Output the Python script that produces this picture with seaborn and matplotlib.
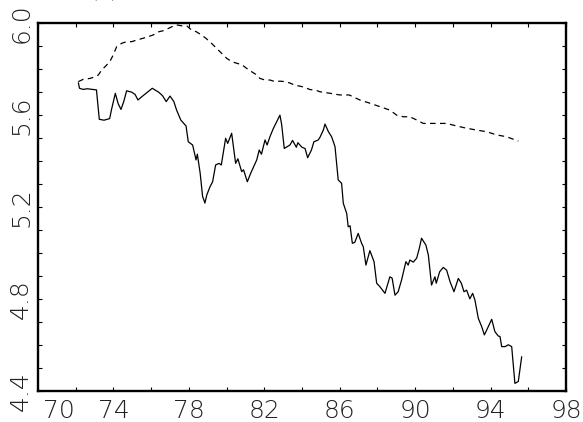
import matplotlib
matplotlib.use("Agg")
import matplotlib.pyplot as plt
import matplotlib.transforms as mtransforms
import numpy as np
import pandas as pd
import seaborn as sns

# Actual series (solid line): year (two-digit) and log level
actual_year = [72.14, 72.20, 72.40, 72.60, 73.10, 73.25, 73.50, 73.80, 73.90, 74.10,
               74.25, 74.40, 74.55, 74.70, 74.97, 75.15, 75.30, 75.50, 75.80, 76.06,
               76.40, 76.60, 76.80, 77.00, 77.20, 77.35, 77.57, 77.85, 77.97, 78.20,
               78.38, 78.45, 78.60, 78.73, 78.80, 78.85, 78.95, 79.12, 79.26, 79.42,
               79.60, 79.72, 79.95, 80.06, 80.27, 80.48, 80.60, 80.80, 80.90, 81.10,
               81.28, 81.60, 81.73, 81.85, 82.04, 82.15, 82.30, 82.48, 82.83, 82.92,
               83.06, 83.36, 83.50, 83.70, 83.78, 84.00, 84.16, 84.30, 84.50, 84.63,
               84.86, 84.95, 85.13, 85.22, 85.40, 85.57, 85.75, 85.92, 86.10, 86.19,
               86.37, 86.45, 86.55, 86.67, 86.80, 86.98, 87.16, 87.25, 87.39, 87.60,
               87.82, 87.96, 88.13, 88.40, 88.66, 88.78, 88.93, 89.10, 89.28, 89.51,
               89.63, 89.72, 89.90, 90.08, 90.22, 90.34, 90.57, 90.70, 90.87, 91.05,
               91.12, 91.30, 91.49, 91.67, 91.85, 92.06, 92.29, 92.45, 92.59, 92.73,
               92.90, 93.05, 93.17, 93.35, 93.53, 93.67, 93.80, 94.06, 94.23, 94.41,
               94.50, 94.59, 94.77, 94.94, 95.12, 95.29, 95.47, 95.65]
actual_val = [5.741, 5.717, 5.712, 5.715, 5.710, 5.582, 5.578, 5.585, 5.625, 5.695,
              5.650, 5.625, 5.660, 5.706, 5.700, 5.690, 5.666, 5.680, 5.700, 5.717,
              5.700, 5.685, 5.659, 5.683, 5.660, 5.622, 5.579, 5.553, 5.484, 5.470,
              5.405, 5.430, 5.347, 5.245, 5.230, 5.217, 5.252, 5.288, 5.310, 5.383,
              5.390, 5.383, 5.499, 5.477, 5.521, 5.390, 5.410, 5.354, 5.362, 5.310,
              5.347, 5.405, 5.448, 5.430, 5.492, 5.470, 5.506, 5.542, 5.600, 5.560,
              5.455, 5.470, 5.490, 5.460, 5.480, 5.460, 5.455, 5.415, 5.448, 5.484,
              5.492, 5.503, 5.535, 5.561, 5.528, 5.506, 5.463, 5.318, 5.303, 5.216,
              5.172, 5.114, 5.118, 5.042, 5.046, 5.085, 5.042, 5.027, 4.947, 5.010,
              4.962, 4.868, 4.853, 4.824, 4.896, 4.890, 4.816, 4.831, 4.882, 4.962,
              4.947, 4.969, 4.960, 4.977, 5.020, 5.064, 5.034, 4.991, 4.860, 4.896,
              4.868, 4.918, 4.937, 4.925, 4.875, 4.831, 4.889, 4.868, 4.831, 4.838,
              4.800, 4.824, 4.795, 4.715, 4.679, 4.643, 4.665, 4.711, 4.657, 4.638,
              4.636, 4.592, 4.592, 4.600, 4.592, 4.432, 4.440, 4.548]

# Trend series (dashed line)
trend_year = [72.14, 72.40, 72.76, 72.95, 73.20, 73.38, 73.64, 73.82, 73.99, 74.17,
              74.44, 74.70, 74.97, 75.23, 75.58, 75.85, 76.10, 76.40, 76.65, 76.82,
              77.10, 77.35, 77.70, 77.90, 78.14, 78.40, 78.67, 78.90, 79.20, 79.47,
              79.74, 80.00, 80.27, 80.54, 80.80, 81.06, 81.33, 81.60, 81.77, 82.04,
              82.30, 82.57, 82.83, 83.10, 83.36, 83.60, 83.90, 84.16, 84.40, 84.78,
              84.95, 85.50, 86.00, 86.50, 87.07, 87.60, 88.13, 88.66, 89.02, 89.37,
              89.72, 90.08, 90.43, 90.80, 91.30, 91.65, 92.00, 92.35, 92.73, 93.26,
              93.79, 94.32, 94.85, 95.47]
trend_val = [5.746, 5.756, 5.760, 5.765, 5.775, 5.797, 5.818, 5.835, 5.862, 5.898,
             5.913, 5.920, 5.920, 5.927, 5.935, 5.942, 5.949, 5.963, 5.968, 5.974,
             5.985, 5.993, 5.988, 5.988, 5.971, 5.963, 5.949, 5.935, 5.913, 5.891,
             5.869, 5.848, 5.833, 5.826, 5.820, 5.804, 5.789, 5.775, 5.760, 5.753,
             5.753, 5.746, 5.748, 5.746, 5.740, 5.731, 5.726, 5.721, 5.712, 5.707,
             5.702, 5.695, 5.688, 5.688, 5.666, 5.652, 5.637, 5.622, 5.600, 5.593,
             5.593, 5.579, 5.564, 5.564, 5.564, 5.564, 5.557, 5.550, 5.543, 5.535,
             5.528, 5.514, 5.506, 5.487]

x_ticks = [70, 74, 78, 82, 86, 90, 94, 98]
x_minor = [72, 76, 80, 84, 88, 92, 96]
y_ticks = [4.4, 4.8, 5.2, 5.6, 6.0]
y_minor = [4.5, 4.6, 4.7, 4.9, 5.0, 5.1, 5.3, 5.4, 5.5, 5.7, 5.8, 5.9]

sns.set_style("ticks")
plt.rcParams["font.family"] = ["DejaVu Sans"]

fig = plt.figure(figsize=(5.83, 4.22), dpi=100)
ax = fig.add_axes([38 / 583, 1 - 390.7 / 422, (566 - 38) / 583, (390.7 - 23.3) / 422])

actual = pd.DataFrame({"year": actual_year, "value": actual_val})
trend = pd.DataFrame({"year": trend_year, "value": trend_val})

sns.lineplot(data=trend, x="year", y="value", ax=ax, color="black",
             linewidth=0.9, estimator=None, sort=False,
             linestyle=(0, (4.5, 3.5)))
sns.lineplot(data=actual, x="year", y="value", ax=ax, color="black",
             linewidth=0.9, estimator=None, sort=False)

ax.set_xlim(70, 98)
ax.set_ylim(4.4, 6.0)
ax.set_xlabel("")
ax.set_ylabel("")

ax.set_xticks(x_ticks)
ax.set_xticklabels([str(v) for v in x_ticks])
ax.set_xticks(x_minor, minor=True)
ax.set_yticks(y_ticks)
ax.set_yticklabels([f"{v:.1f}" for v in y_ticks], rotation=90, va="center")
ax.set_yticks(y_minor, minor=True)

for which in ("major", "minor"):
    ax.tick_params(axis="both", which=which, direction="in", length=3.2,
                   width=0.8, color="black", top=True, right=True)
ax.tick_params(axis="x", which="major", labelsize=18, pad=6, colors="black")
ax.tick_params(axis="y", which="major", labelsize=18, pad=3.5, colors="black")

for side in ("left", "right", "top", "bottom"):
    ax.spines[side].set_visible(True)
    ax.spines[side].set_linewidth(1.7)
    ax.spines[side].set_color("black")

for lab in ax.get_xticklabels() + ax.get_yticklabels():
    lab.set_fontweight("light")
    lab.set_color("#222222")

# nudge the first year label clear of the bottom value label
first = ax.get_xticklabels()[0]
first.set_transform(first.get_transform() +
                    mtransforms.ScaledTranslation(0.21, 0, fig.dpi_scale_trans))

# panel heading sits just above the canvas edge, only its lowest strokes show
fig.text(104 / 583, 1.016, "(c)", ha="center", va="baseline",
         fontsize=23, family="Liberation Serif")

fig.savefig("out.png", dpi=100)
